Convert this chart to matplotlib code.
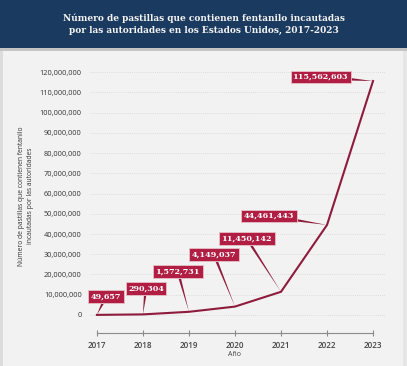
import matplotlib
matplotlib.use("Agg")
import matplotlib.pyplot as plt
from matplotlib.patches import Rectangle

years = [2017, 2018, 2019, 2020, 2021, 2022, 2023]
pills = [49657, 290304, 1572731, 4149037, 11450142, 44461443, 115562603]
labels = ["49,657", "290,304", "1,572,731", "4,149,037", "11,450,142", "44,461,443", "115,562,603"]
yticks = list(range(0, 120000001, 10000000))
ytick_labels = ["0"] + [f"{v:,}" for v in yticks[1:]]

title = "Número de pastillas que contienen fentanilo incautadas\npor las autoridades en los Estados Unidos, 2017-2023"
ylabel = "Número de pastillas que contienen fentanilo\nincautadas por las autoridades"
xlabel = "Año"

W, H = 407, 366
fig = plt.figure(figsize=(W / 100, H / 100), dpi=100)
fig.patch.set_facecolor("#f2f2f2")

# background decorations
fig.add_artist(Rectangle((0, 0), 1, 1, transform=fig.transFigure, facecolor="#f2f2f2", edgecolor="none", zorder=-10))
fig.add_artist(Rectangle((0, 0), 3 / W, 1, transform=fig.transFigure, facecolor="#dcdcdc", edgecolor="none", zorder=-9))
fig.add_artist(Rectangle((403 / W, 0), 4 / W, 1, transform=fig.transFigure, facecolor="#e6e6e6", edgecolor="none", zorder=-9))
fig.add_artist(Rectangle((0, 1 - 51 / H), 1, 3 / H, transform=fig.transFigure, facecolor="#c4c4c4", edgecolor="none", zorder=-8))
fig.add_artist(Rectangle((0, 1 - 48 / H), 1, 48 / H, transform=fig.transFigure, facecolor="#1b3a5f", edgecolor="none", zorder=-7))

fig.text(0.5, 1 - 24 / H, title, ha="center", va="center", color="#f4f4f4",
         fontsize=6.5, fontweight="bold", family="DejaVu Serif", linespacing=1.4)

# axes
ax_left, ax_right = 90 / W, 385 / W
ax_bottom, ax_top = (H - 333) / H, (H - 68) / H
ax = fig.add_axes([ax_left, ax_bottom, ax_right - ax_left, ax_top - ax_bottom])
ax.set_facecolor("none")
ax.set_xlim(2016.85, 2023.26)
ax.set_ylim(-8.9e6, 122e6)

for s in ["top", "right", "left"]:
    ax.spines[s].set_visible(False)
ax.spines["bottom"].set_bounds(2017, 2023)
ax.spines["bottom"].set_color("#8a8a8a")
ax.spines["bottom"].set_linewidth(0.8)

ax.set_yticks(yticks)
ax.set_yticklabels(ytick_labels, fontsize=5.3, color="#333333", family="Open Sans")
ax.tick_params(axis="y", length=0, pad=6)
ax.set_xticks(years)
ax.set_xticklabels([str(y) for y in years], fontsize=5.8, color="#444444", family="Open Sans", fontweight="semibold")
ax.tick_params(axis="x", direction="inout", length=5, width=0.8, color="#8a8a8a", pad=3)
ax.grid(axis="y", color="#d6d6d6", linestyle=(0, (1, 1.5)), linewidth=0.6)
ax.set_axisbelow(True)

crimson = "#b01e43"
line_col = "#8e1b3c"
ax.plot(years, pills, color=line_col, linewidth=1.5, solid_joinstyle="miter", zorder=3)

# label box offsets (pixels, relative to each data point)
offsets = [(9, 18), (3, 26), (-11, 40), (-21, 52), (-34, 53), (-58, 9), (-52, 4)]
for x, y, lab, (dx, dy) in zip(years, pills, labels, offsets):
    ax.annotate(lab, xy=(x, y), xytext=(dx, dy), textcoords="offset pixels",
                ha="center", va="center", color="white", fontsize=5.8, fontweight="bold",
                family="DejaVu Serif", zorder=5,
                bbox=dict(boxstyle="square,pad=0.3", fc=crimson, ec="#e8c0c8", lw=0.6),
                arrowprops=dict(arrowstyle="wedge,tail_width=0.3,shrink_factor=0.5", fc=line_col, ec="none",
                                shrinkA=0, shrinkB=0))

fig.text(ax_left + (2020 - 2016.85) / (2023.26 - 2016.85) * (ax_right - ax_left), 1 - 355 / H, xlabel,
         ha="center", va="center", fontsize=5, color="#444444", family="Open Sans")
fig.text(26 / W, 1 - 196 / H, ylabel, rotation=90, ha="center", va="center", fontsize=4.9,
         color="#333333", family="Open Sans", linespacing=1.4)

fig.savefig("out.png", dpi=100, facecolor=fig.get_facecolor())
